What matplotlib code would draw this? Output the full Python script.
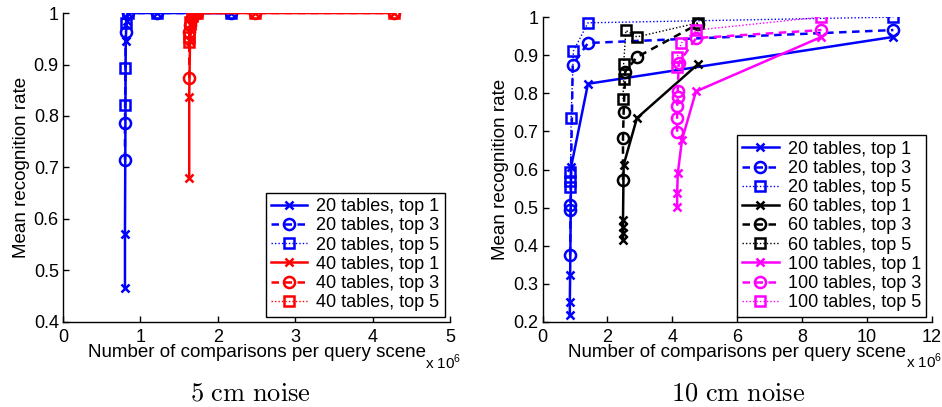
import matplotlib
matplotlib.use('Agg')
import matplotlib.pyplot as plt

plt.rcParams['font.family'] = ['Liberation Sans', 'DejaVu Sans']
plt.rcParams['mathtext.fontset'] = 'custom'
plt.rcParams['mathtext.rm'] = 'Liberation Sans'

# ---- 5 cm noise (x in units of 1e6 comparisons) ----
b20_t1_x = [0.80, 0.80, 0.81, 0.82, 0.84, 1.22, 2.17]
b20_t1_y = [0.465, 0.571, 0.945, 0.985, 1.0, 1.0, 1.0]
b20_t3_x = [0.80, 0.80, 0.81, 0.84, 1.22, 2.17]
b20_t3_y = [0.715, 0.786, 0.963, 1.0, 1.0, 1.0]
b20_t5_x = [0.80, 0.80, 0.81, 0.84, 1.22, 2.17]
b20_t5_y = [0.821, 0.893, 0.98, 1.0, 1.0, 1.0]

r40_t1_x = [1.63, 1.63, 1.64, 1.66, 1.70, 1.73, 2.48, 4.27]
r40_t1_y = [0.68, 0.837, 0.945, 0.975, 1.0, 1.0, 1.0, 1.0]
r40_t3_x = [1.63, 1.63, 1.64, 1.66, 1.70, 1.73, 2.48, 4.27]
r40_t3_y = [0.874, 0.963, 0.977, 0.99, 1.0, 1.0, 1.0, 1.0]
r40_t5_x = [1.63, 1.63, 1.64, 1.66, 1.70, 1.73, 2.48, 4.27]
r40_t5_y = [0.944, 0.953, 0.983, 0.995, 1.0, 1.0, 1.0, 1.0]

# ---- 10 cm noise ----
b20n_t1_x = [0.84, 0.84, 0.85, 0.88, 1.40, 10.82]
b20n_t1_y = [0.218, 0.253, 0.323, 0.607, 0.825, 0.948]
b20n_t3_x = [0.85, 0.86, 0.86, 0.93, 1.40, 10.82]
b20n_t3_y = [0.376, 0.494, 0.507, 0.875, 0.932, 0.966]
b20n_t5_x = [0.85, 0.85, 0.86, 0.88, 0.95, 1.40, 10.82]
b20n_t5_y = [0.555, 0.57, 0.594, 0.735, 0.911, 0.985, 1.0]

k60_t1_x = [2.48, 2.48, 2.48, 2.48, 2.50, 2.91, 4.80]
k60_t1_y = [0.415, 0.434, 0.45, 0.468, 0.612, 0.735, 0.877]
k60_t3_x = [2.48, 2.48, 2.50, 2.55, 2.91, 4.80]
k60_t3_y = [0.573, 0.683, 0.75, 0.857, 0.895, 0.982]
k60_t5_x = [2.48, 2.50, 2.50, 2.57, 2.91, 4.80]
k60_t5_y = [0.785, 0.838, 0.877, 0.965, 0.948, 0.985]

m100_t1_x = [4.15, 4.15, 4.17, 4.30, 4.73, 8.60]
m100_t1_y = [0.502, 0.538, 0.59, 0.678, 0.805, 0.948]
m100_t3_x = [4.15, 4.15, 4.15, 4.17, 4.17, 4.20, 4.74, 8.60]
m100_t3_y = [0.699, 0.735, 0.767, 0.79, 0.807, 0.88, 0.945, 0.966]
m100_t5_x = [4.15, 4.15, 4.28, 4.74, 8.60]
m100_t5_y = [0.87, 0.895, 0.932, 0.966, 1.0]

left_series = [
    (b20_t1_x, b20_t1_y, 'blue', '20 tables, top 1', 't1'),
    (b20_t3_x, b20_t3_y, 'blue', '20 tables, top 3', 't3'),
    (b20_t5_x, b20_t5_y, 'blue', '20 tables, top 5', 't5'),
    (r40_t1_x, r40_t1_y, 'red', '40 tables, top 1', 't1'),
    (r40_t3_x, r40_t3_y, 'red', '40 tables, top 3', 't3'),
    (r40_t5_x, r40_t5_y, 'red', '40 tables, top 5', 't5'),
]
right_series = [
    (b20n_t1_x, b20n_t1_y, 'blue', '20 tables, top 1', 't1'),
    (b20n_t3_x, b20n_t3_y, 'blue', '20 tables, top 3', 't3'),
    (b20n_t5_x, b20n_t5_y, 'blue', '20 tables, top 5', 't5'),
    (k60_t1_x, k60_t1_y, 'black', '60 tables, top 1', 't1'),
    (k60_t3_x, k60_t3_y, 'black', '60 tables, top 3', 't3'),
    (k60_t5_x, k60_t5_y, 'black', '60 tables, top 5', 't5'),
    (m100_t1_x, m100_t1_y, 'magenta', '100 tables, top 1', 't1'),
    (m100_t3_x, m100_t3_y, 'magenta', '100 tables, top 3', 't3'),
    (m100_t5_x, m100_t5_y, 'magenta', '100 tables, top 5', 't5'),
]

styles = {
    't1': dict(linestyle='-', linewidth=1.8, marker='x', markersize=5.5, markeredgewidth=1.8),
    't3': dict(linestyle=(0, (3.0, 2.2)), linewidth=1.8, marker='o', markersize=8,
               markerfacecolor='none', markeredgewidth=1.8),
    't5': dict(linestyle=(0, (1, 1.5)), linewidth=1.0, marker='s', markersize=7,
               markerfacecolor='none', markeredgewidth=1.8),
}

fig = plt.figure(figsize=(9.42, 4.07), dpi=100)
ax1 = fig.add_axes([0.0669, 0.209, 0.411, 0.759])
ax2 = fig.add_axes([0.576, 0.209, 0.413, 0.749])


def draw(ax, series, xlim, ylim, xticks, yticks):
    for xs, ys, c, lab, key in series:
        ax.plot(xs, ys, color=c, label=lab, **styles[key])
    ax.set_xlim(*xlim)
    ax.set_ylim(*ylim)
    ax.set_xticks(xticks)
    ax.set_yticks(yticks)
    ax.set_xticklabels([f'{t:g}' for t in xticks])
    ax.set_yticklabels([f'{t:g}' for t in yticks])
    ax.spines['top'].set_visible(False)
    ax.spines['right'].set_visible(False)
    for s in ('left', 'bottom'):
        ax.spines[s].set_linewidth(1.0)
    ax.tick_params(direction='in', length=4, width=1.0, labelsize=13)
    ax.tick_params(axis='x', pad=5)
    ax.tick_params(axis='y', pad=3)
    ax.set_xlabel('Number of comparisons per query scene', fontsize=13.5, labelpad=-1)
    ax.set_ylabel('Mean recognition rate', fontsize=13.5, labelpad=3)
    ax.text(0.935, -0.13, r'x 10$^{6}$', transform=ax.transAxes, fontsize=11,
            ha='left', va='center')
    leg = ax.legend(loc='lower right', fontsize=13, numpoints=1, handlelength=2.0,
                    labelspacing=0.12, handletextpad=0.5, borderpad=0.3,
                    fancybox=False, framealpha=1, edgecolor='black',
                    borderaxespad=0.3)
    leg.get_frame().set_linewidth(1.0)


draw(ax1, left_series, (0, 5), (0.4, 1.0), [0, 1, 2, 3, 4, 5],
     [0.4, 0.5, 0.6, 0.7, 0.8, 0.9, 1.0])
draw(ax2, right_series, (0, 12), (0.2, 1.0), [0, 2, 4, 6, 8, 10, 12],
     [0.2, 0.3, 0.4, 0.5, 0.6, 0.7, 0.8, 0.9, 1.0])

fig.text(0.266, 0.033, r'$\mathrm{5\ cm\ noise}$', fontsize=19, ha='center',
         va='center', math_fontfamily='cm')
fig.text(0.783, 0.033, r'$\mathrm{10\ cm\ noise}$', fontsize=19, ha='center',
         va='center', math_fontfamily='cm')

fig.savefig('out.png', dpi=100)
